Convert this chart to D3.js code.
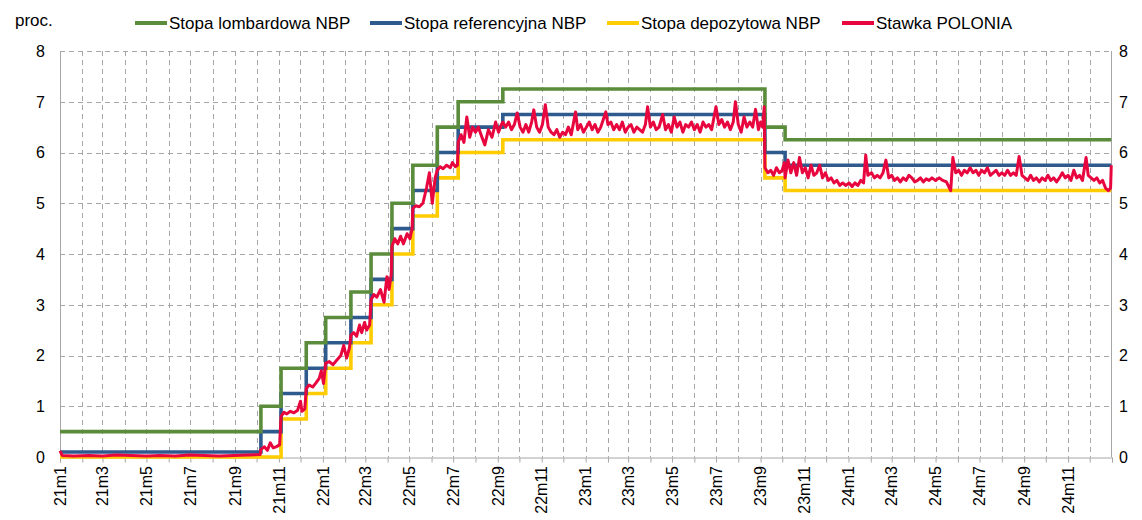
<!DOCTYPE html>
<html>
<head>
<meta charset="utf-8">
<script src="https://cdn.jsdelivr.net/npm/d3@7"></script>
<style>
  body { margin: 0; background: #fff; }
  svg { display: block; font-family: "Liberation Sans", Arial, sans-serif; }
</style>
</head>
<body>
<svg width="1142" height="520"></svg>
<script>
// policy rate decision dates (NBP) and the rates in force from each date
var rateDates = ["2021-01-01","2021-10-07","2021-11-04","2021-12-09","2022-01-05","2022-02-09",
  "2022-03-09","2022-04-07","2022-05-06","2022-06-09","2022-07-08","2022-09-08",
  "2023-09-07","2023-10-05","2024-12-31"];
var lombard   = [0.5, 1.0, 1.75, 2.25, 2.75, 3.25, 4.0, 5.0, 5.75, 6.5, 7.0, 7.25, 6.5, 6.25, 6.25];
var reference = [0.1, 0.5, 1.25, 1.75, 2.25, 2.75, 3.5, 4.5, 5.25, 6.0, 6.5, 6.75, 6.0, 5.75, 5.75];
var deposit   = [0.0, 0.0, 0.75, 1.25, 1.75, 2.25, 3.0, 4.0, 4.75, 5.5, 6.0, 6.25, 5.5, 5.25, 5.25];

// POLONIA
var polonia = [
  ["2021-01-01",0.12],["2021-01-04",0.03],["2021-01-20",0.02],["2021-02-10",0.03],["2021-03-01",0.02],
  ["2021-03-20",0.04],["2021-04-10",0.03],["2021-05-01",0.02],["2021-05-20",0.03],["2021-06-10",0.02],
  ["2021-06-30",0.04],["2021-07-20",0.03],["2021-08-10",0.02],["2021-08-30",0.03],["2021-09-20",0.04],
  ["2021-10-06",0.05],["2021-10-07",0.15],["2021-10-12",0.2],["2021-10-16",0.13],["2021-10-20",0.28],
  ["2021-10-24",0.18],["2021-10-28",0.2],["2021-11-02",0.24],
  ["2021-11-04",0.8],["2021-11-08",0.88],["2021-11-12",0.85],["2021-11-17",0.9],["2021-11-22",0.87],
  ["2021-11-27",0.92],["2021-12-01",1.1],["2021-12-03",0.9],["2021-12-07",0.95],
  ["2021-12-09",1.35],["2021-12-13",1.42],["2021-12-18",1.38],["2021-12-22",1.45],["2021-12-27",1.55],
  ["2021-12-30",1.7],["2022-01-02",1.45],
  ["2022-01-05",1.85],["2022-01-10",1.88],["2022-01-15",1.82],["2022-01-20",1.9],["2022-01-26",2.0],
  ["2022-01-30",2.2],["2022-02-03",1.95],["2022-02-07",2.15],
  ["2022-02-09",2.4],["2022-02-13",2.45],["2022-02-17",2.38],["2022-02-21",2.6],["2022-02-24",2.45],
  ["2022-02-28",2.65],["2022-03-03",2.5],["2022-03-07",2.6],
  ["2022-03-09",3.1],["2022-03-13",3.2],["2022-03-17",3.15],["2022-03-22",3.3],["2022-03-27",3.05],
  ["2022-03-31",3.55],["2022-04-03",3.3],["2022-04-06",3.6],
  ["2022-04-07",4.15],["2022-04-11",4.3],["2022-04-15",4.2],["2022-04-19",4.35],["2022-04-23",4.2],
  ["2022-04-28",4.4],["2022-05-02",4.3],["2022-05-05",4.5],
  ["2022-05-06",4.9],["2022-05-10",4.95],["2022-05-15",4.93],["2022-05-20",5.0],["2022-05-25",5.3],
  ["2022-05-29",5.6],["2022-06-02",5.0],["2022-06-06",5.5],
  ["2022-06-09",5.65],["2022-06-13",5.72],["2022-06-17",5.68],["2022-06-22",5.75],["2022-06-27",5.7],
  ["2022-06-30",5.8],["2022-07-04",5.72],["2022-07-07",5.75],
  ["2022-07-08",6.2],["2022-07-12",6.35],["2022-07-16",6.2],["2022-07-20",6.7],["2022-07-24",6.3],
  ["2022-07-28",6.5],["2022-08-01",6.4],["2022-08-05",6.5],["2022-08-10",6.3],["2022-08-14",6.15],
  ["2022-08-19",6.45],["2022-08-24",6.3],["2022-08-29",6.6],["2022-09-02",6.4],["2022-09-06",6.55],
  ["2022-09-08",6.6],["2022-09-12",6.5],["2022-09-16",6.6],["2022-09-20",6.45],["2022-09-24",6.55],
  ["2022-09-28",6.78],["2022-10-02",6.5],["2022-10-06",6.4],["2022-10-10",6.55],["2022-10-14",6.4],
  ["2022-10-18",6.6],["2022-10-21",6.84],["2022-10-25",6.5],["2022-10-29",6.4],["2022-11-02",6.55],
  ["2022-11-06",6.94],["2022-11-10",6.5],["2022-11-14",6.4],["2022-11-18",6.35],["2022-11-22",6.45],
  ["2022-11-26",6.3],["2022-11-30",6.4],["2022-12-04",6.35],["2022-12-08",6.5],["2022-12-12",6.35],
  ["2022-12-18",6.8],["2022-12-21",6.45],["2022-12-25",6.55],["2022-12-29",6.4],["2023-01-02",6.5],
  ["2023-01-06",6.6],["2023-01-10",6.45],["2023-01-14",6.55],["2023-01-18",6.4],["2023-01-22",6.5],
  ["2023-01-29",6.8],["2023-02-01",6.55],["2023-02-05",6.6],["2023-02-09",6.45],["2023-02-13",6.55],
  ["2023-02-17",6.45],["2023-02-21",6.6],["2023-02-25",6.4],["2023-03-01",6.5],["2023-03-05",6.55],
  ["2023-03-09",6.4],["2023-03-13",6.5],["2023-03-17",6.45],["2023-03-21",6.4],["2023-03-25",6.55],
  ["2023-03-28",6.9],["2023-04-01",6.5],["2023-04-05",6.6],["2023-04-09",6.45],["2023-04-13",6.5],
  ["2023-04-18",6.75],["2023-04-22",6.45],["2023-04-26",6.55],["2023-04-30",6.4],["2023-05-04",6.7],
  ["2023-05-08",6.5],["2023-05-12",6.6],["2023-05-16",6.4],["2023-05-20",6.55],["2023-05-24",6.5],
  ["2023-05-28",6.6],["2023-06-01",6.45],["2023-06-05",6.55],["2023-06-09",6.4],["2023-06-13",6.6],
  ["2023-06-17",6.5],["2023-06-21",6.55],["2023-06-25",6.45],["2023-07-01",6.9],["2023-07-05",6.55],
  ["2023-07-09",6.65],["2023-07-13",6.5],["2023-07-17",6.6],["2023-07-21",6.45],["2023-07-25",6.6],
  ["2023-07-28",7.0],["2023-08-01",6.55],["2023-08-05",6.4],["2023-08-09",6.7],["2023-08-13",6.5],
  ["2023-08-17",6.6],["2023-08-21",6.5],["2023-08-25",6.85],["2023-08-29",6.45],["2023-09-01",6.6],
  ["2023-09-04",6.5],["2023-09-06",6.9],
  ["2023-09-07",5.7],["2023-09-11",5.6],["2023-09-15",5.65],["2023-09-19",5.55],["2023-09-23",5.7],
  ["2023-09-27",5.6],["2023-10-01",5.65],["2023-10-04",5.8],
  ["2023-10-05",5.5],["2023-10-09",5.85],["2023-10-13",5.6],["2023-10-17",5.8],["2023-10-21",5.55],
  ["2023-10-25",5.9],["2023-10-29",5.6],["2023-11-02",5.7],["2023-11-06",5.5],["2023-11-10",5.75],
  ["2023-11-14",5.55],["2023-11-18",5.6],["2023-11-22",5.75],["2023-11-26",5.5],["2023-11-30",5.6],
  ["2023-12-04",5.45],["2023-12-08",5.5],["2023-12-12",5.4],["2023-12-16",5.45],["2023-12-20",5.35],
  ["2023-12-24",5.4],["2023-12-28",5.35],["2024-01-02",5.4],["2024-01-06",5.33],["2024-01-10",5.4],
  ["2024-01-14",5.35],["2024-01-18",5.45],["2024-01-22",5.4],["2024-01-25",5.95],["2024-01-28",5.55],
  ["2024-02-02",5.6],["2024-02-06",5.5],["2024-02-10",5.55],["2024-02-14",5.5],["2024-02-18",5.6],
  ["2024-02-22",5.85],["2024-02-26",5.5],["2024-03-01",5.55],["2024-03-05",5.45],["2024-03-09",5.5],
  ["2024-03-13",5.42],["2024-03-17",5.5],["2024-03-21",5.45],["2024-03-25",5.55],["2024-03-29",5.5],
  ["2024-04-02",5.42],["2024-04-06",5.45],["2024-04-10",5.5],["2024-04-14",5.42],["2024-04-18",5.48],
  ["2024-04-22",5.45],["2024-04-26",5.5],["2024-05-01",5.45],["2024-05-06",5.5],["2024-05-11",5.45],
  ["2024-05-16",5.42],["2024-05-22",5.25],["2024-05-25",5.9],["2024-05-29",5.6],["2024-06-02",5.65],
  ["2024-06-06",5.55],["2024-06-10",5.65],["2024-06-14",5.6],["2024-06-18",5.7],["2024-06-22",5.6],
  ["2024-06-26",5.65],["2024-06-30",5.55],["2024-07-04",5.65],["2024-07-08",5.6],["2024-07-12",5.7],
  ["2024-07-16",5.55],["2024-07-20",5.6],["2024-07-24",5.65],["2024-07-28",5.55],["2024-08-01",5.6],
  ["2024-08-05",5.55],["2024-08-09",5.65],["2024-08-13",5.55],["2024-08-17",5.6],["2024-08-21",5.55],
  ["2024-08-25",5.92],["2024-08-29",5.55],["2024-09-02",5.5],["2024-09-06",5.45],["2024-09-10",5.55],
  ["2024-09-14",5.45],["2024-09-18",5.5],["2024-09-22",5.42],["2024-09-26",5.5],["2024-09-30",5.45],
  ["2024-10-04",5.55],["2024-10-08",5.45],["2024-10-12",5.5],["2024-10-16",5.42],["2024-10-20",5.5],
  ["2024-10-24",5.6],["2024-10-28",5.5],["2024-11-01",5.55],["2024-11-05",5.45],["2024-11-09",5.65],
  ["2024-11-13",5.5],["2024-11-17",5.55],["2024-11-21",5.45],["2024-11-26",5.9],["2024-11-29",5.55],
  ["2024-12-03",5.5],["2024-12-07",5.45],["2024-12-11",5.5],["2024-12-15",5.4],["2024-12-19",5.45],
  ["2024-12-23",5.3],["2024-12-27",5.25],["2024-12-30",5.3],["2024-12-31",5.75]
];

var yTicks = [0, 1, 2, 3, 4, 5, 6, 7, 8];
var seriesNames = ["Stopa lombardowa NBP", "Stopa referencyjna NBP", "Stopa depozytowa NBP", "Stawka POLONIA"];
var colors = ["#5b8c3c", "#2e5a8e", "#ffcc00", "#e8063e"];

var parse = d3.timeParse("%Y-%m-%d");
var margin = {top: 51, right: 30, bottom: 63, left: 60},
    width = 1142 - margin.left - margin.right,
    height = 520 - margin.top - margin.bottom;

var svg = d3.select("svg"),
    g = svg.append("g").attr("transform", "translate(" + margin.left + "," + margin.top + ")");

var x = d3.scaleTime()
  .domain([new Date(2021, 0, 1), new Date(2025, 0, 1)])
  .range([0, width]);
var y = d3.scaleLinear().domain([0, 8]).range([height, 0]);

var months = d3.timeMonth.range(new Date(2021, 0, 1), new Date(2025, 0, 2));

// grid
g.selectAll(".vgrid").data(months.slice(1, -1)).enter().append("line")
  .attr("x1", function(d) { return Math.round(x(d)) + 0.5; })
  .attr("x2", function(d) { return Math.round(x(d)) + 0.5; })
  .attr("y1", 0).attr("y2", height)
  .attr("stroke", "#a6a6a6").attr("stroke-dasharray", "5,4");
g.selectAll(".hgrid").data(yTicks.slice(1)).enter().append("line")
  .attr("x1", 0).attr("x2", width)
  .attr("y1", function(d) { return Math.round(y(d)) + 0.5; })
  .attr("y2", function(d) { return Math.round(y(d)) + 0.5; })
  .attr("stroke", "#a6a6a6").attr("stroke-dasharray", "5,4");

// frame lines
g.append("line").attr("x1", 0.5).attr("x2", 0.5).attr("y1", 0).attr("y2", height).attr("stroke", "#a6a6a6");
g.append("line").attr("x1", width - 0.5).attr("x2", width - 0.5).attr("y1", 0).attr("y2", height).attr("stroke", "#a6a6a6");

// x axis
var xAxis = g.append("g")
  .attr("transform", "translate(0," + (Math.round(height) + 0.5) + ")")
  .call(d3.axisBottom(x).tickValues(months).tickSize(5).tickFormat(""));
xAxis.select(".domain").attr("stroke", "#a6a6a6");
xAxis.selectAll(".tick line").attr("stroke", "#a6a6a6");

var labelMonths = months.filter(function(d) { return d.getMonth() % 2 === 0 && d.getFullYear() < 2025; });
g.selectAll(".xlab").data(labelMonths).enter().append("text")
  .attr("transform", function(d) { return "translate(" + x(d) + "," + (height + 9) + ") rotate(-90)"; })
  .attr("dy", "0.36em")
  .attr("text-anchor", "end")
  .style("font-size", "16px")
  .attr("fill", "#000")
  .text(function(d) { return (d.getFullYear() % 100) + "m" + (d.getMonth() + 1); });

// y axes, left and right
g.selectAll(".ylab").data(yTicks).enter().append("text")
  .attr("x", -15).attr("y", function(d) { return y(d); })
  .attr("dy", "0.36em").attr("text-anchor", "end")
  .style("font-size", "16px").text(function(d) { return d; });
g.selectAll(".ylabr").data(yTicks).enter().append("text")
  .attr("x", width + 7).attr("y", function(d) { return y(d); })
  .attr("dy", "0.36em").attr("text-anchor", "start")
  .style("font-size", "16px").text(function(d) { return d; });

svg.append("text").attr("x", 15).attr("y", 26).style("font-size", "17px").text("proc.");

// lines
var stepLine = d3.line()
  .x(function(d) { return x(d[0]); })
  .y(function(d) { return y(d[1]); })
  .curve(d3.curveStepAfter);
var plainLine = d3.line()
  .x(function(d) { return x(d[0]); })
  .y(function(d) { return y(d[1]); });

function zipRates(vals) {
  return rateDates.map(function(d, i) { return [parse(d), vals[i]]; });
}

var rateSeries = [lombard, reference, deposit];
// draw deposit first, then reference, lombard on top
[2, 1, 0].forEach(function(k) {
  g.append("path")
    .datum(zipRates(rateSeries[k]))
    .attr("fill", "none")
    .attr("stroke", colors[k])
    .attr("stroke-width", 3.6)
    .attr("d", stepLine);
});

g.append("path")
  .datum(polonia.map(function(d) { return [parse(d[0]), d[1]]; }))
  .attr("fill", "none")
  .attr("stroke", colors[3])
  .attr("stroke-width", 3)
  .attr("stroke-linejoin", "round")
  .attr("d", plainLine);

// legend
var legendX = [135, 370, 607, 842];
var legend = svg.selectAll(".leg").data(seriesNames).enter().append("g")
  .attr("transform", function(d, i) { return "translate(" + legendX[i] + ",23)"; });
legend.append("line")
  .attr("x1", 0).attr("x2", 32).attr("y1", 0).attr("y2", 0)
  .attr("stroke", function(d, i) { return colors[i]; })
  .attr("stroke-width", 4);
legend.append("text")
  .attr("x", 34).attr("y", 0).attr("dy", "0.36em")
  .style("font-size", "17px")
  .text(function(d) { return d; });
</script>
</body>
</html>
